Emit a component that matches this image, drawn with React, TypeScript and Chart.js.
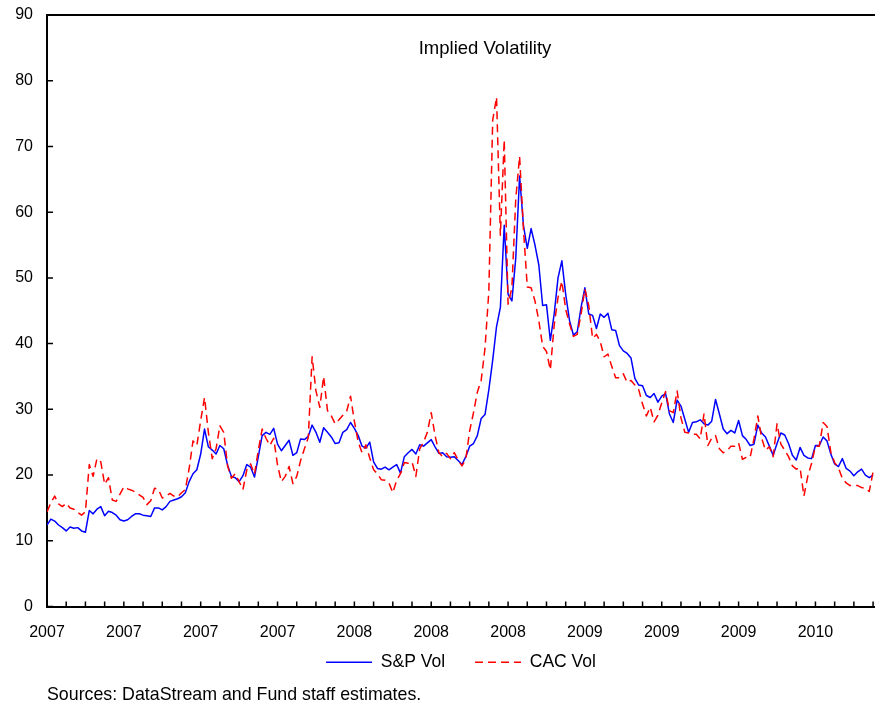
import React, { useEffect, useRef } from "react";
import { Chart, registerables } from "chart.js";

Chart.register(...registerables);

// Time axis: months since January 2007, one sample every 0.2 month
const STEP_MONTHS = 0.2;
const AXIS_MONTHS = 43.1;
const MINOR_TICK_COUNT = 43;
const xLabels = ["2007", "2007", "2007", "2007", "2008", "2008", "2008", "2009", "2009", "2009", "2010"];
const yTicks = [0, 10, 20, 30, 40, 50, 60, 70, 80, 90];

const TITLE = "Implied Volatility";
const SOURCE = "Sources: DataStream and Fund staff estimates.";

const spxVol = [
  12.4, 13.3, 13.0, 12.4, 12.0, 11.5, 12.1, 11.9, 12.0, 11.5,
  11.3, 14.6, 14.1, 14.8, 15.2, 13.8, 14.5, 14.3, 13.9, 13.2,
  13.0, 13.2, 13.7, 14.1, 14.1, 13.9, 13.8, 13.7, 15.0, 15.0,
  14.7, 15.2, 16.0, 16.2, 16.4, 16.7, 17.3, 19.0, 20.2, 20.8,
  23.2, 27.0, 24.3, 23.8, 23.2, 24.5, 24.0, 21.5, 19.8, 19.6,
  19.0, 19.9, 21.6, 21.2, 19.7, 22.8, 26.0, 26.5, 26.2, 27.1,
  24.7, 23.7, 24.5, 25.3, 23.0, 23.4, 25.5, 25.4, 25.9, 27.6,
  26.5, 25.0, 27.2, 26.5, 25.8, 24.8, 24.9, 26.5, 26.9, 28.0,
  27.1, 26.0, 24.4, 24.1, 25.0, 22.0, 21.0, 20.9, 21.2, 20.8,
  21.2, 21.6, 20.3, 22.8, 23.4, 23.9, 23.2, 24.6, 24.4, 24.9,
  25.4, 24.3, 23.3, 23.4, 22.8, 22.7, 22.8, 22.2, 21.6, 22.8,
  24.4, 24.8, 26.0, 28.6, 29.2, 33.0, 37.5, 42.6, 45.5, 58.0,
  47.5, 46.5, 53.0, 65.5, 58.0, 54.5, 57.5, 55.0, 52.0, 45.8,
  45.9, 40.5, 44.5, 50.0, 52.6, 47.5, 43.5, 41.3, 41.8, 45.5,
  48.5, 44.5, 44.3, 42.3, 44.5, 44.0, 44.6, 42.1, 42.0, 39.7,
  38.9, 38.5, 37.8, 34.7, 33.7, 33.6, 32.1, 31.8, 32.4, 31.1,
  32.0, 32.4, 29.3, 28.0, 31.4, 30.5, 28.5, 26.5, 28.0, 28.1,
  28.4, 27.8, 27.6, 28.2, 31.5, 29.3, 27.0, 26.3, 26.8, 26.4,
  28.3, 26.0, 25.4, 24.5, 24.7, 27.6, 26.4, 25.8, 24.4, 23.0,
  24.8, 26.4, 26.1, 24.8, 23.0, 22.3, 24.2, 23.0, 22.6, 22.5,
  24.5, 24.5, 25.8, 25.2, 23.2, 21.7, 21.3, 22.5, 21.0, 20.6,
  19.9, 20.5, 20.9, 20.0, 19.6, 20.0,
];

const cacVol = [
  14.4, 15.8, 16.8, 15.6, 15.2, 15.7, 15.0, 14.8, 14.3, 13.9,
  14.4, 21.6, 19.8, 22.5, 22.0, 18.6, 19.6, 16.2, 16.0, 17.1,
  18.2, 17.9, 17.7, 17.4, 17.0, 16.6, 15.5, 16.1, 18.0, 17.8,
  16.5, 16.8, 17.2, 16.8, 16.7, 17.3, 17.8, 21.0, 25.2, 24.5,
  28.3, 31.8, 26.5, 22.5, 24.0, 27.5, 26.5, 21.4, 19.5, 20.2,
  19.0, 17.8, 20.8, 21.7, 20.1, 23.8, 27.0, 25.6, 24.5, 25.6,
  21.5, 19.0, 19.8, 21.3, 18.7, 19.8, 22.2, 24.0, 25.7, 38.0,
  32.8, 30.3, 35.0, 29.8, 29.0, 27.8, 28.4, 29.1, 29.7, 32.0,
  28.2, 25.0, 23.4, 24.6, 22.6, 20.8, 20.2, 19.3, 19.2, 18.8,
  17.3, 19.2, 20.2, 21.9, 21.8, 22.0, 19.8, 24.0, 25.0, 26.5,
  29.5, 26.0, 23.4, 22.8, 23.3, 22.5, 23.4, 22.3, 21.4, 22.4,
  26.7, 29.5, 32.6, 34.4, 39.3, 48.0, 74.0, 77.5, 56.5, 71.0,
  46.0, 48.5, 62.0, 68.5, 57.5, 48.6, 48.5, 46.5, 43.5, 39.6,
  38.8, 36.0, 42.8, 47.0, 49.5, 45.2, 43.0, 41.1, 41.4, 44.5,
  48.3, 45.8, 40.8, 41.4, 40.3, 38.0, 38.4, 36.5, 34.8, 34.8,
  35.4, 34.1, 34.4, 33.7, 33.0, 30.8, 29.0, 30.3, 28.1, 29.1,
  31.0, 32.7, 29.8, 29.5, 32.8, 28.7, 26.5, 26.4, 26.2, 26.2,
  25.5, 29.3, 24.5, 25.6, 26.0, 24.0, 23.4, 23.7, 24.4, 24.4,
  24.9, 22.4, 22.7, 22.7, 25.5, 29.0, 25.6, 23.8, 24.3, 22.8,
  27.8, 24.7, 23.8, 22.8, 21.4, 20.9, 21.1, 16.8, 19.8, 21.8,
  24.4, 24.4, 28.0, 27.4, 23.5, 21.9, 21.1, 19.5, 18.8, 18.4,
  18.4, 18.4, 18.1, 18.0, 17.5, 20.5,
];

const FONT_FAMILY = '"Liberation Sans", Arial, Helvetica, sans-serif';

const toPoints = (values: number[]) => values.map((v, i) => ({ x: i * STEP_MONTHS, y: v }));

const zeroPadding = (scale: any) => {
  scale.paddingTop = 0;
  scale.paddingBottom = 0;
  scale.paddingLeft = 0;
  scale.paddingRight = 0;
};

const decorPlugin = {
  id: "decor",
  afterDraw(chart: any) {
    const { ctx, chartArea } = chart;
    const xs = chart.scales.x;
    const ys = chart.scales.y;
    ctx.save();
    ctx.strokeStyle = "#000";
    ctx.lineWidth = 2;
    ctx.beginPath();
    ctx.moveTo(chartArea.left - 1, chartArea.top);
    ctx.lineTo(chartArea.right, chartArea.top);
    ctx.stroke();

    ctx.lineWidth = 1.5;
    ctx.beginPath();
    for (let k = 0; k <= MINOR_TICK_COUNT; k++) {
      const px = xs.getPixelForValue(k);
      ctx.moveTo(px, chartArea.bottom);
      ctx.lineTo(px, chartArea.bottom - 5);
    }
    for (const v of yTicks) {
      const py = ys.getPixelForValue(v);
      ctx.moveTo(chartArea.left, py);
      ctx.lineTo(chartArea.left + 6, py);
    }
    ctx.stroke();

    ctx.fillStyle = "#000";
    ctx.font = `18.5px ${FONT_FAMILY}`;
    ctx.textAlign = "center";
    ctx.textBaseline = "middle";
    ctx.fillText(TITLE, chartArea.left + 0.529 * (chartArea.right - chartArea.left), chartArea.top + 34);

    ctx.textAlign = "left";
    ctx.font = `17.8px ${FONT_FAMILY}`;
    ctx.fillText(SOURCE, chartArea.left, chart.height - 9);
    ctx.restore();
  },
};

export default function App() {
  const canvasRef = useRef<HTMLCanvasElement | null>(null);

  useEffect(() => {
    if (!canvasRef.current) return;
    Chart.defaults.font.family = FONT_FAMILY;
    Chart.defaults.color = "#000";
    const chart = new Chart(canvasRef.current, {
      type: "line",
      data: {
        datasets: [
          {
            label: "S&P Vol",
            data: toPoints(spxVol),
            borderColor: "#0000FF",
            backgroundColor: "#0000FF",
            borderWidth: 1.5,
            pointRadius: 0,
            tension: 0,
            borderJoinStyle: "round",
            order: 1,
          },
          {
            label: "CAC Vol",
            data: toPoints(cacVol),
            borderColor: "#FF0000",
            backgroundColor: "#FF0000",
            borderWidth: 1.5,
            borderDash: [8, 5],
            pointRadius: 0,
            tension: 0,
            borderJoinStyle: "round",
            order: 0,
          },
        ],
      },
      options: {
        animation: false,
        responsive: true,
        maintainAspectRatio: false,
        layout: { padding: { top: 15, left: 0, right: 0, bottom: 23 } },
        scales: {
          x: {
            type: "linear",
            min: 0,
            max: AXIS_MONTHS,
            grid: { display: false, drawTicks: false },
            border: { display: true, color: "#000", width: 2 },
            afterFit: (scale: any) => {
              scale.height = 17;
              zeroPadding(scale);
              // let the tick labels draw below the (short) axis box
              scale._computeLabelArea = () => undefined;
            },
            ticks: {
              stepSize: 1,
              autoSkip: false,
              maxRotation: 0,
              padding: 16,
              color: "#000",
              font: { size: 16 },
              callback: (value: any) => {
                const v = Number(value);
                const k = Math.round(v);
                if (Math.abs(v - k) > 1e-6 || k % 4 !== 0) return "";
                return xLabels[k / 4] ?? "";
              },
            },
          },
          y: {
            min: 0,
            max: 90,
            grid: { display: false, drawTicks: false },
            border: { display: true, color: "#000", width: 2 },
            afterFit: (scale: any) => {
              scale.width = 47;
              zeroPadding(scale);
            },
            ticks: {
              stepSize: 10,
              padding: 14,
              color: "#000",
              font: { size: 16 },
            },
          },
        },
        plugins: {
          legend: {
            position: "bottom",
            fullSize: false,
            labels: {
              usePointStyle: true,
              pointStyle: "line",
              pointStyleWidth: 46,
              padding: 30,
              color: "#000",
              font: { size: 17.5 },
              sort: (a: any, b: any) => a.datasetIndex - b.datasetIndex,
              generateLabels: (c: any) => {
                const items = Chart.defaults.plugins.legend.labels.generateLabels(c);
                return items.map((item: any) => {
                  const ds = c.data.datasets[item.datasetIndex];
                  return {
                    ...item,
                    strokeStyle: ds.borderColor,
                    fillStyle: ds.borderColor,
                    lineWidth: ds.borderWidth,
                    lineDash: ds.borderDash || [],
                    pointStyle: "line",
                  };
                });
              },
            },
          },
          title: { display: false },
          tooltip: { enabled: false },
        },
      },
      plugins: [decorPlugin],
    });
    return () => chart.destroy();
  }, []);

  return (
    <div style={{ position: "absolute", left: 0, top: 0, width: 875, height: 704, background: "#fff" }}>
      <canvas ref={canvasRef} />
    </div>
  );
}
